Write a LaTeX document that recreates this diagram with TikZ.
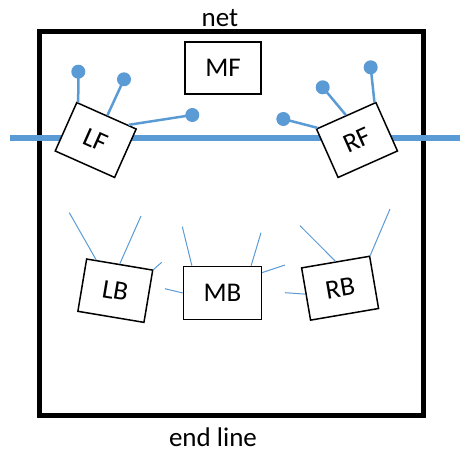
\documentclass[tikz,border=0pt]{standalone}
\usepackage{fontspec}
\setmainfont{Carlito}
\usetikzlibrary{calc}
\definecolor{netblue}{RGB}{91,155,213}
\begin{document}
\begin{tikzpicture}[x=1pt,y=-1pt,
  player/.style={draw=black, line width=1.5pt, fill=white, minimum width=65pt, minimum height=53pt, inner sep=0pt, font=\fontsize{27}{32}\selectfont},
  label/.style={inner sep=0pt, font=\fontsize{27}{32}\selectfont},
  dot/.style={circle, fill=netblue, inner sep=0pt, minimum size=14pt},
  upline/.style={draw=netblue, line width=2.5pt},
  lowline/.style={draw=netblue, line width=1pt}]
\useasboundingbox (0,0) rectangle (467,452);
% court frame
\draw[line width=5pt] (39.5,32) rectangle (423,415);
% net
\coordinate (netL) at (10,138);
\coordinate (netR) at (460,138);
\draw[netblue, line width=5.5pt] (netL) -- (netR);
% labels
\node[label] (net) at (220,18) {net};
\node[label] (end) at (213,437) {end line};
% MF
\node[player, minimum width=76pt, minimum height=52pt] (MF) at (223,68) {MF};
% LF
\node[player, rotate=-24] (LF) at (95.7,140) {LF};
\node[dot] (lf1) at (78.3,71.7) {};
\node[dot] (lf2) at (124,79.3) {};
\node[dot] (lf3) at (192.3,115) {};
\draw[upline] (lf1.center) -- ($(LF.north west)!0.03!(LF.north east)$);
\draw[upline] (lf2.center) -- ($(LF.north west)!0.51!(LF.north east)$);
\draw[upline] (lf3.center) -- ($(LF.north west)!0.86!(LF.north east)$);
% RF
\node[player, rotate=24] (RF) at (357,140) {RF};
\node[dot] (rf1) at (283.3,119) {};
\node[dot] (rf2) at (322.7,87.3) {};
\node[dot] (rf3) at (370.7,67.3) {};
\draw[upline] (rf1.center) -- ($(RF.north west)!0.03!(RF.north east)$);
\draw[upline] (rf2.center) -- ($(RF.north west)!0.5!(RF.north east)$);
\draw[upline] (rf3.center) -- ($(RF.north west)!0.97!(RF.north east)$);
% LB
\node[player, minimum width=67pt, rotate=-9.5] (LB) at (115.3,290.7) {LB};
\coordinate (lb1) at (69.3,212.7);
\coordinate (lb2) at (141,216);
\coordinate (lb3) at (161.7,262.3);
\draw[lowline] (lb1) -- ($(LB.north west)!0.15!(LB.north east)$);
\draw[lowline] (lb2) -- ($(LB.north west)!0.5!(LB.north east)$);
\draw[lowline] (lb3) -- (LB.north east);
% MB
\node[player, minimum width=78pt, minimum height=53pt] (MB) at (222.5,293) {MB};
\coordinate (mb1) at (182.3,226.7);
\coordinate (mb2) at (261,232.7);
\coordinate (mb3) at (285,265);
\coordinate (mb4) at (165,288.7);
\draw[lowline] (mb1) -- ($(MB.north west)!0.115!(MB.north east)$);
\draw[lowline] (mb2) -- ($(MB.north west)!0.86!(MB.north east)$);
\draw[lowline] (mb3) -- ($(MB.north east)!0.125!(MB.south east)$);
\draw[lowline] (mb4) -- (MB.west);
% RB
\node[player, minimum width=69pt, rotate=9.7] (RB) at (340.1,288.2) {RB};
\coordinate (rb1) at (300,225.7);
\coordinate (rb2) at (390,209);
\coordinate (rb3) at (285,292.7);
\draw[lowline] (rb1) -- ($(RB.north west)!0.5!(RB.north east)$);
\draw[lowline] (rb2) -- (RB.north east);
\draw[lowline] (rb3) -- (RB.west);
\end{tikzpicture}
\end{document}
